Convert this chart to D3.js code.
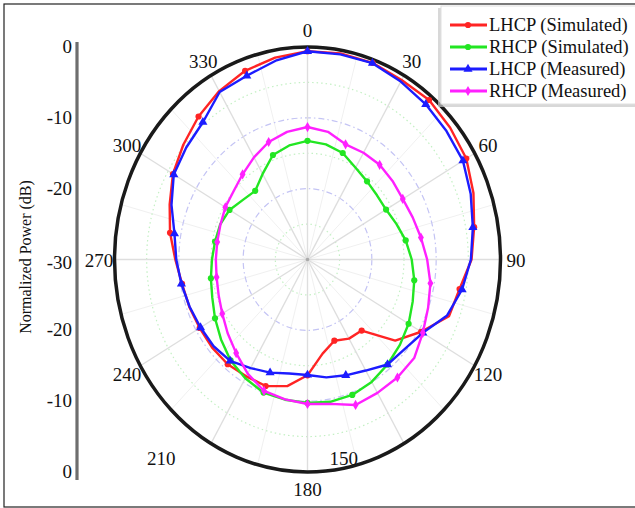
<!DOCTYPE html>
<html><head><meta charset="utf-8">
<script src="https://cdn.jsdelivr.net/npm/d3@7/dist/d3.min.js"></script>
<style>body{margin:0;background:#fff}svg{display:block}text{font-family:"Liberation Serif","Times New Roman",serif;fill:#111}</style>
</head><body>
<script>
// ---- data ----
const angles = d3.range(0, 360, 10);
const lhcpSim = [-0.6,-0.45,-0.45,-0.75,-0.6,-1.05,-1.5,-2.55,-3.7,-4.5,-6.0,-6.6,-9.6,-12.2,-16.9,-17.1,-17.8,-16.5,-13.65,-11.85,-11.0,-10.95,-10.7,-10.65,-10.65,-10.45,-10.2,-9.45,-8.3,-7.2,-5.85,-4.8,-3.65,-2.55,-1.65,-1.05];
const rhcpSim = [-13.25,-13.5,-14.0,-15.05,-15.6,-15.9,-15.9,-15.3,-14.5,-13.8,-13.15,-12.6,-11.85,-11.25,-10.65,-10.05,-9.65,-9.6,-9.75,-9.9,-10.0,-10.65,-11.4,-12.45,-13.4,-14.25,-14.75,-15.15,-15.4,-15.55,-16.0,-16.9,-17.35,-16.05,-14.3,-13.65];
const lhcpMeas = [-0.6,-0.6,-0.5,-1.0,-1.4,-1.8,-2.1,-3.0,-3.9,-4.6,-5.6,-6.9,-9.3,-10.3,-10.65,-11.9,-12.6,-13.1,-13.7,-13.65,-13.0,-12.3,-11.3,-10.95,-10.8,-10.5,-10.1,-9.6,-9.0,-7.5,-6.0,-5.4,-4.7,-2.7,-2.4,-1.5];
const rhcpMeas = [-11.3,-11.7,-12.7,-12.6,-12.55,-12.75,-12.9,-12.6,-12.1,-11.4,-10.6,-10.05,-9.3,-8.35,-8.25,-8.25,-8.15,-9.3,-9.6,-9.95,-10.25,-11.4,-12.75,-13.8,-14.7,-15.3,-15.65,-15.75,-15.75,-15.6,-15.25,-15.0,-14.3,-13.35,-12.35,-11.7];
const seriesNames = ["LHCP (Simulated)","RHCP (Simulated)","LHCP (Measured)","RHCP (Measured)"];
const seriesColors = ["#ff2424","#22e622","#1c1cff","#ff20ff"];
const seriesShapes = ["circle","circle","triangle","diamond"];
const angleTicks = d3.range(0, 360, 30);
const ringValues = [-25,-20,-15,-10,-5];
const axisTickLabels = ["0","-10","-20","-30","-20","-10","0"];
const axisTickValues = [0,-10,-20,-30,-20,-10,0];
const axisTickSide = [1,1,1,0,-1,-1,-1];

// ---- layout ----
const W = 635, H = 508;
const cx = 307.5, cy = 259.5, rx = 193, ry = 212.5;
const svg = d3.select("body").append("svg").attr("width", W).attr("height", H);

const rScale = d3.scaleLinear().domain([-30, 0]).range([0, 1]);
const aScale = d3.scaleLinear().domain([0, 360]).range([0, 2 * Math.PI]);
const px = (a, v) => cx + rScale(v) * rx * Math.sin(aScale(a));
const py = (a, v) => cy - rScale(v) * ry * Math.cos(aScale(a));

// frame
svg.append("rect").attr("x", 4).attr("y", 4).attr("width", 640).attr("height", 503)
  .attr("fill", "none").attr("stroke", "#222").attr("stroke-width", 1.2);

const g = svg.append("g");
// faint 15-degree spokes
g.selectAll(".spk2").data(d3.range(15, 360, 30)).join("line")
  .attr("x1", cx).attr("y1", cy).attr("x2", d => px(d, 0)).attr("y2", d => py(d, 0))
  .attr("stroke", "#f0f0f0").attr("stroke-width", 1);
// rings
g.selectAll(".ring").data(ringValues).join("ellipse")
  .attr("cx", cx).attr("cy", cy)
  .attr("rx", d => rScale(d) * rx).attr("ry", d => rScale(d) * ry)
  .attr("fill", "none")
  .attr("stroke", d => (d % 10 === 0) ? "#c4c4f4" : "#c4f0c4")
  .attr("stroke-width", 1.2)
  .attr("stroke-dasharray", d => (d % 10 === 0) ? "6,3,1.5,3" : "1.5,3");
// main spokes
g.selectAll(".spk").data(angleTicks).join("line")
  .attr("x1", cx).attr("y1", cy).attr("x2", d => px(d, 0)).attr("y2", d => py(d, 0))
  .attr("stroke", "#dedede").attr("stroke-width", 1.4);
g.append("circle").attr("cx", cx).attr("cy", cy).attr("r", 1.8).attr("fill", "#aaa");

// outer ellipse
g.append("ellipse").attr("cx", cx).attr("cy", cy).attr("rx", rx).attr("ry", ry)
  .attr("fill", "none").attr("stroke", "#1a1a1a").attr("stroke-width", 3.5);

// angle labels
const labelShift = {150: -68, 210: -42};
g.selectAll(".alab").data(angleTicks).join("text")
  .attr("x", d => px(d, 0) + (rScale(0) * 0.08 * rx) * Math.sin(aScale(d)) + (labelShift[d] || 0))
  .attr("y", d => py(d, 0) - (rScale(0) * 0.08 * ry) * Math.cos(aScale(d)) + 7)
  .attr("text-anchor", "middle").attr("font-size", 19).text(d => d);

// series
const allSeries = [lhcpSim, rhcpSim, lhcpMeas, rhcpMeas];
const line = d3.line().x(d => px(d.a, d.v)).y(d => py(d.a, d.v)).curve(d3.curveLinearClosed);
function markerPath(shape, s) {
  if (shape === "triangle") return d3.symbol(d3.symbolTriangle, s * 1.2)();
  if (shape === "diamond") return d3.symbol(d3.symbolDiamond, s)();
  return d3.symbol(d3.symbolCircle, s)();
}
allSeries.forEach((vals, i) => {
  const pts = angles.map((a, k) => ({a, v: vals[k]}));
  g.append("path").datum(pts).attr("d", line).attr("fill", "none")
    .attr("stroke", seriesColors[i]).attr("stroke-width", 2.4).attr("stroke-linejoin", "round");
  g.selectAll(".m" + i).data(pts.filter((d, k) => k % 2 === 0)).join("path")
    .attr("d", markerPath(seriesShapes[i], 30))
    .attr("transform", d => `translate(${px(d.a, d.v)},${py(d.a, d.v)})`)
    .attr("fill", seriesColors[i]);
});

// left radial axis
const yAx = d3.scaleLinear().domain([0, 1]).range([cy, cy - ry]);
const axX = 77;
svg.append("line").attr("x1", axX).attr("x2", axX).attr("y1", 42).attr("y2", 480)
  .attr("stroke", "#6e6e6e").attr("stroke-width", 3.2);
svg.selectAll(".ytl").data(axisTickLabels).join("text")
  .attr("x", axX - 5)
  .attr("y", (d, i) => cy - axisTickSide[i] * (yAx(0) - yAx(rScale(axisTickValues[i]))) + 6 + (axisTickSide[i] === 0 ? 3 : 0))
  .attr("text-anchor", "end").attr("font-size", 19).text(d => d);
svg.append("text").attr("transform", `translate(31,257) rotate(-90)`)
  .attr("text-anchor", "middle").attr("font-size", 16).text("Normalized Power (dB)");

// legend
const lg = svg.append("g");
lg.append("rect").attr("x", 438).attr("y", 8).attr("width", 200).attr("height", 99).attr("fill", "#c8c8c8").attr("opacity", 0.7);
lg.append("rect").attr("x", 441).attr("y", 6).attr("width", 198).attr("height", 98).attr("fill", "#fff").attr("stroke", "#e0e0e0");
seriesNames.forEach((n, i) => {
  const yy = 25 + i * 22;
  lg.append("line").attr("x1", 450).attr("x2", 487).attr("y1", yy).attr("y2", yy)
    .attr("stroke", seriesColors[i]).attr("stroke-width", 3);
  lg.append("path").attr("d", markerPath(seriesShapes[i], 30)).attr("transform", `translate(468,${yy})`).attr("fill", seriesColors[i]);
  lg.append("text").attr("x", 489).attr("y", yy + 6).attr("font-size", 18.5).text(n);
});
</script>
</body></html>
